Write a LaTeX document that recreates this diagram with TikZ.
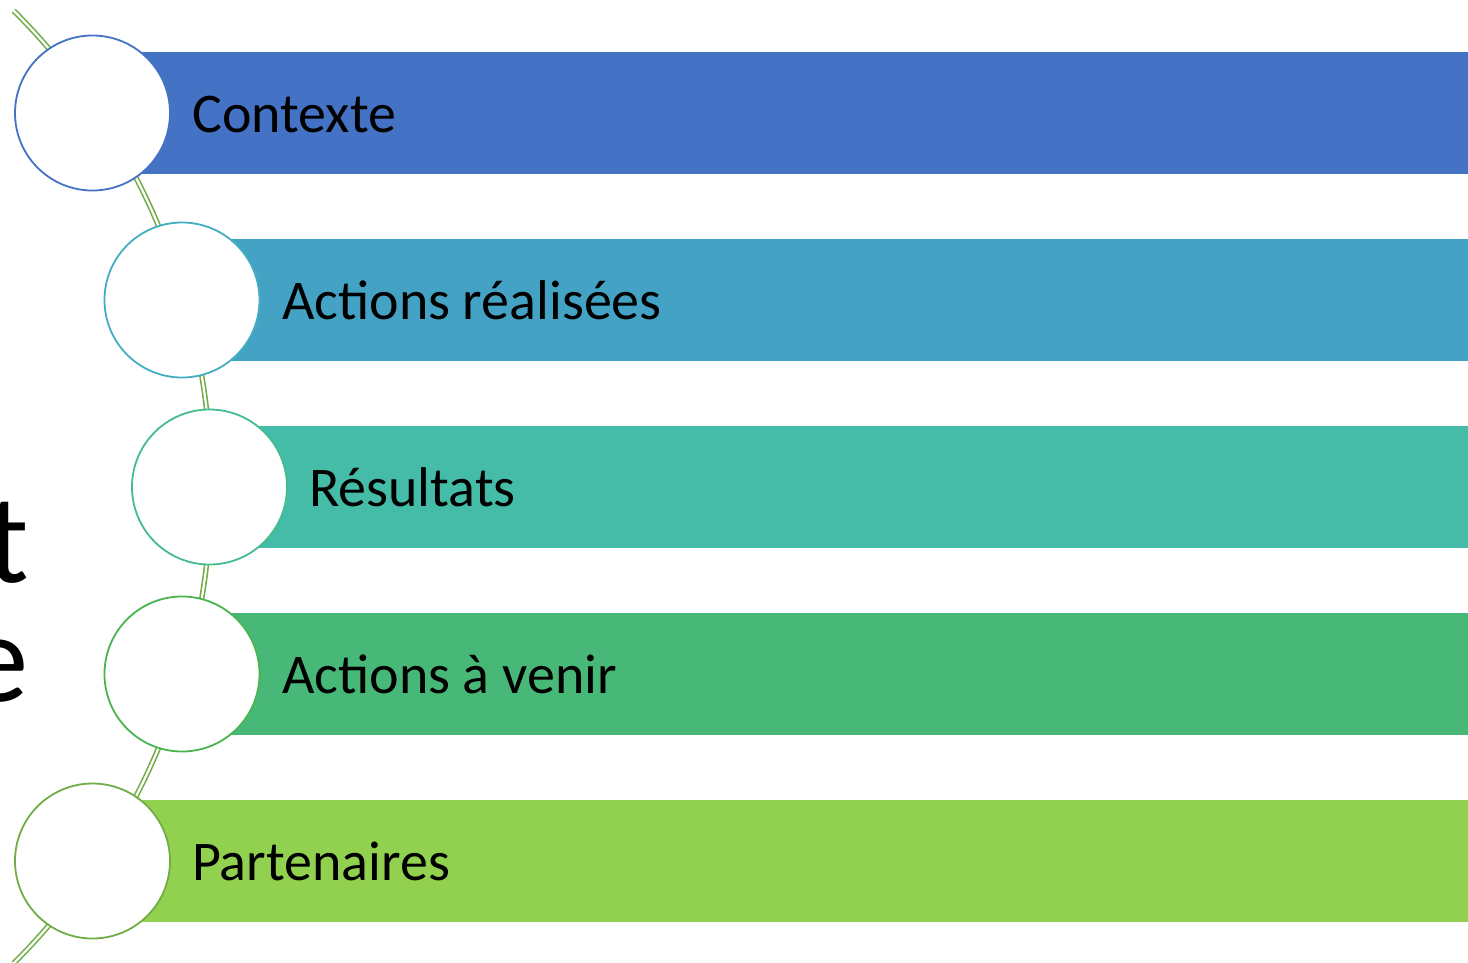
\documentclass[tikz,border=0pt]{standalone}
\usepackage{fontspec}
\setmainfont{Carlito}
\begin{document}
\begin{tikzpicture}[x=1pt,y=-1pt,
  barbox/.style={draw=none, rectangle, inner sep=0, minimum height=122pt, anchor=west},
  ring/.style={circle, fill=white, line width=1.8pt, minimum size=155pt, inner sep=0},
  lbl/.style={anchor=base west, inner sep=0, font=\fontsize{56}{66}\selectfont, text=black},
  big/.style={anchor=base east, inner sep=0, font=\fontsize{127}{150}\selectfont, text=black}]
\definecolor{cA}{HTML}{4472C4}
\definecolor{cB}{HTML}{44A2C4}
\definecolor{cBo}{HTML}{44ADC4}
\definecolor{cC}{HTML}{45BCA8}
\definecolor{cCo}{HTML}{45BC8E}
\definecolor{cD}{HTML}{47B877}
\definecolor{cDo}{HTML}{4AB550}
\definecolor{cE}{HTML}{92D050}
\definecolor{cEo}{HTML}{70AD47}
\definecolor{curve}{HTML}{70AD47}
\useasboundingbox (0,0) rectangle (1468,962);
\fill[white] (0,0) rectangle (1468,962);
% title fragments
\node[big] (t1) at (29,582) {t};
\node[big] (t2) at (29,701) {e};
% curve
\coordinate (cc) at (-462.6,487);
\draw[curve, line width=1.6pt, double=white, double distance=2.2pt]
  (cc) ++(-45:673.6) arc[start angle=-45, end angle=45, radius=673.6];
% bars
\node[barbox, fill=cA, minimum width=1376pt] (b1) at (92.5,113) {};
\node[barbox, fill=cB, minimum width=1286pt] (b2) at (182,300) {};
\node[barbox, fill=cC, minimum width=1259pt] (b3) at (209.5,487) {};
\node[barbox, fill=cD, minimum width=1286pt] (b4) at (182,674) {};
\node[barbox, fill=cE, minimum width=1376pt] (b5) at (92.5,861) {};
% circles
\node[ring, draw=cA] (c1) at (92.5,113) {};
\node[ring, draw=cBo] (c2) at (182,300) {};
\node[ring, draw=cCo] (c3) at (209.5,487) {};
\node[ring, draw=cDo] (c4) at (182,674) {};
\node[ring, draw=cEo] (c5) at (92.5,861) {};
% labels
\node[lbl] (l1) at (192,132) {Contexte};
\node[lbl] (l2) at (282,319) {Actions réalisées};
\node[lbl] (l3) at (309,506) {Résultats};
\node[lbl] (l4) at (282,693) {Actions à venir};
\node[lbl] (l5) at (192,880) {Partenaires};
\end{tikzpicture}
\end{document}
